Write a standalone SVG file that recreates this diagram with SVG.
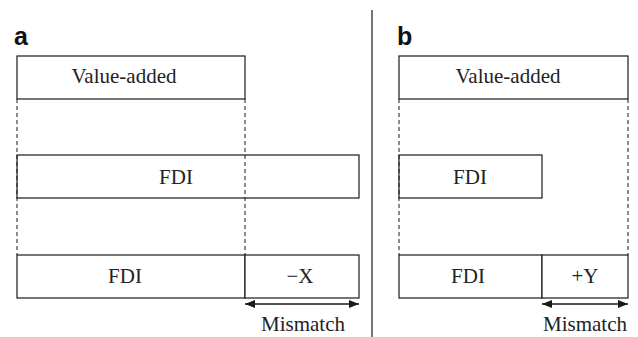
<svg xmlns="http://www.w3.org/2000/svg" width="638" height="337" viewBox="0 0 638 337">
  <defs>
    <marker id="ah" viewBox="0 0 10 8" refX="10" refY="4" markerWidth="10" markerHeight="8" markerUnits="userSpaceOnUse" orient="auto-start-reverse">
      <path d="M0,0 L10,4 L0,8 Z" fill="#1a1a1a"/>
    </marker>
  </defs>
  <style>
    .box { fill: #fff; stroke: #1a1a1a; stroke-width: 1.2; }
    .guide { stroke: #1a1a1a; stroke-width: 1; stroke-dasharray: 4 3; fill: none; }
    .lbl { font-family: 'Liberation Serif', 'DejaVu Serif', serif; font-size: 21px; fill: #222; text-anchor: middle; }
    .panel { font-family: 'Liberation Sans', 'DejaVu Sans', sans-serif; font-size: 25px; font-weight: bold; fill: #111; }
    .span { stroke: #1a1a1a; stroke-width: 1.5; marker-start: url(#ah); marker-end: url(#ah); }
  </style>
  <rect width="638" height="337" fill="#fff"/>

  <!-- panel divider -->
  <line x1="372" y1="10" x2="372" y2="337" stroke="#1a1a1a" stroke-width="1.2"/>

  <text class="panel" x="14" y="45" font-family="Liberation Sans, sans-serif">a</text>
  <text class="panel" x="397" y="45" font-family="Liberation Sans, sans-serif">b</text>

  <!-- panel a -->
  <g id="a-value-added">
    <rect class="box" x="17" y="56" width="228" height="43"/>
    <text class="lbl" x="124" y="83" font-family="Liberation Serif, serif">Value-added</text>
  </g>
  <g id="a-fdi">
    <rect class="box" x="17" y="155" width="342" height="43"/>
    <text class="lbl" x="176" y="184" font-family="Liberation Serif, serif">FDI</text>
  </g>
  <g id="a-fdi-bottom">
    <rect class="box" x="17" y="255" width="228" height="43"/>
    <text class="lbl" x="125" y="283" font-family="Liberation Serif, serif">FDI</text>
  </g>
  <g id="a-minus-x">
    <rect class="box" x="245" y="255" width="114" height="43"/>
    <text class="lbl" x="300" y="283" font-family="Liberation Serif, serif">−X</text>
  </g>

  <!-- panel b -->
  <g id="b-value-added">
    <rect class="box" x="399" y="56" width="229" height="43"/>
    <text class="lbl" x="508" y="83" font-family="Liberation Serif, serif">Value-added</text>
  </g>
  <g id="b-fdi">
    <rect class="box" x="399" y="155" width="143" height="43"/>
    <text class="lbl" x="470" y="184" font-family="Liberation Serif, serif">FDI</text>
  </g>
  <g id="b-fdi-bottom">
    <rect class="box" x="399" y="255" width="143" height="43"/>
    <text class="lbl" x="468" y="283" font-family="Liberation Serif, serif">FDI</text>
  </g>
  <g id="b-plus-y">
    <rect class="box" x="542" y="255" width="86" height="43"/>
    <text class="lbl" x="585" y="283" font-family="Liberation Serif, serif">+Y</text>
  </g>

  <!-- guides and mismatch spans -->
  <g id="connectors">
    <line class="guide" x1="17" y1="99" x2="17" y2="255"/>
    <line class="guide" x1="245" y1="99" x2="245" y2="255"/>
    <line class="guide" x1="399" y1="99" x2="399" y2="255"/>
    <line class="guide" x1="628" y1="99" x2="628" y2="255"/>
    <line class="span" x1="245" y1="304" x2="359" y2="304"/>
    <line class="span" x1="542" y1="304" x2="628" y2="304"/>
  </g>

  <text class="lbl" x="303" y="331" font-family="Liberation Serif, serif">Mismatch</text>
  <text class="lbl" x="585" y="331" font-family="Liberation Serif, serif">Mismatch</text>
</svg>
